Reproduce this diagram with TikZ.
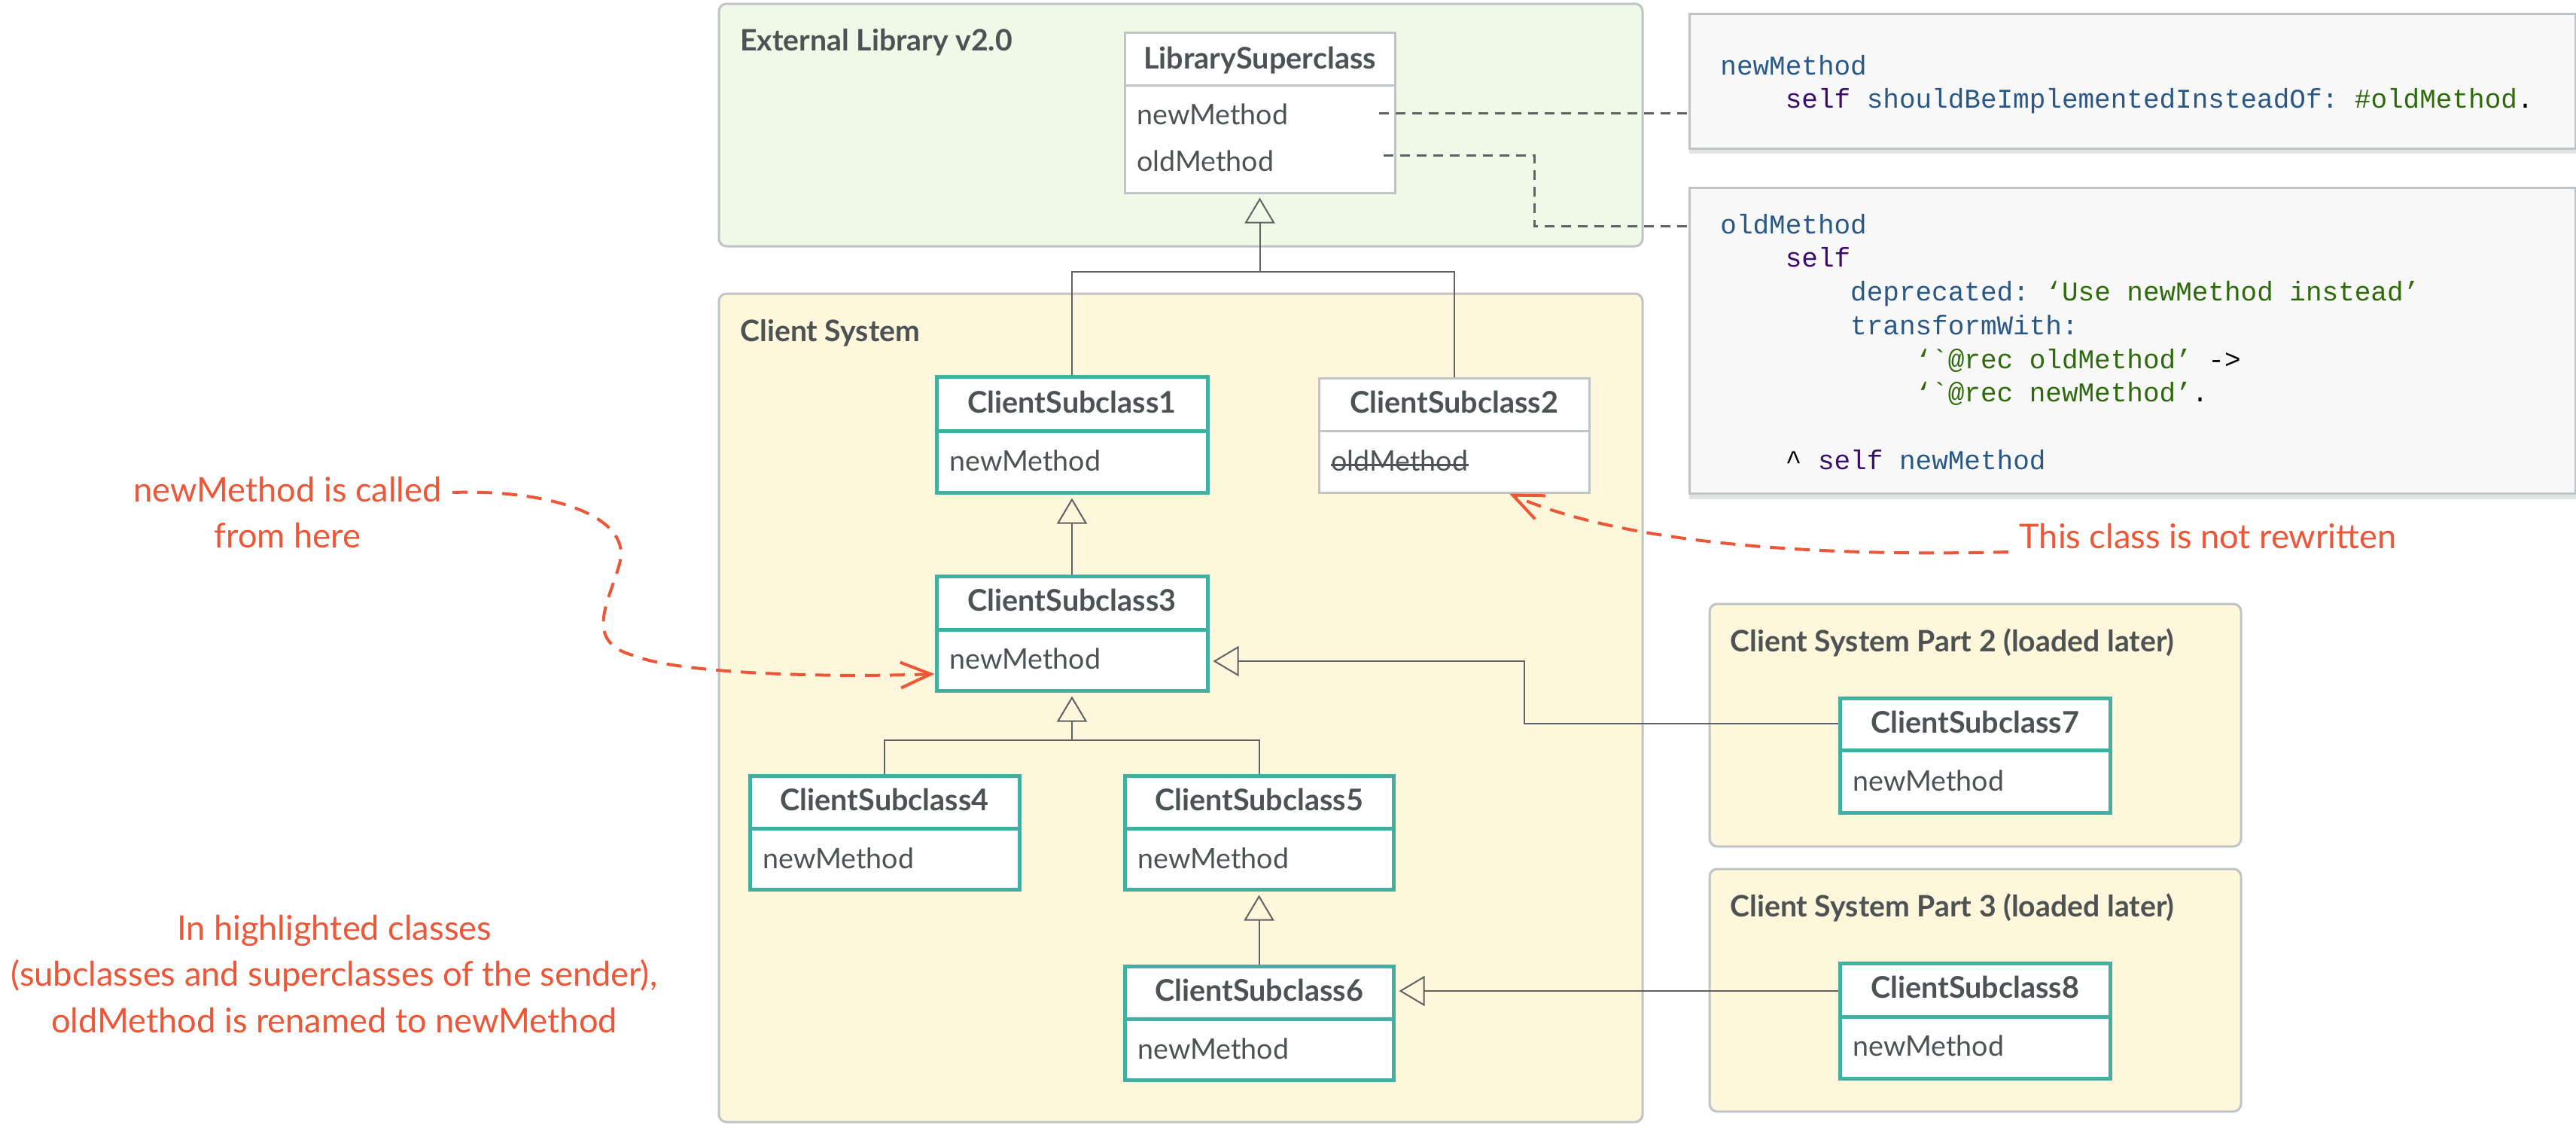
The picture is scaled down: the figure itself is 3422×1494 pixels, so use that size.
\documentclass[tikz,border=0pt]{standalone}
\usepackage{fontspec}
\setmainfont{Lato}
\setmonofont{Liberation Mono}
\usetikzlibrary{arrows.meta,fit}
\definecolor{txt}{HTML}{4D5254}
\definecolor{clsteal}{HTML}{42AFA2}
\definecolor{redann}{HTML}{EE5638}
\definecolor{extfill}{HTML}{F0F8E7}
\definecolor{clifill}{HTML}{FEF7DC}
\definecolor{grpline}{HTML}{C0C4C6}
\definecolor{lnk}{HTML}{5F6365}
\definecolor{codebg}{HTML}{F8F8F8}
\definecolor{shadowc}{HTML}{E2E3E3}
\definecolor{cblue}{HTML}{2A5886}
\definecolor{cpurple}{HTML}{3B0C6B}
\definecolor{cgreen}{HTML}{2D6A0A}
\begin{document}
\begin{tikzpicture}[x=0.5pt,y=-0.5pt,
  grp/.style={draw=grpline, line width=1.5pt, rounded corners=5pt, inner sep=0pt},
  tealcls/.style={draw=clsteal, line width=2.5pt, fill=white, inner sep=0pt},
  graycls/.style={draw=grpline, line width=1.5pt, fill=white, inner sep=0pt},
  tealdiv/.style={draw=clsteal, line width=2.5pt},
  graydiv/.style={draw=grpline, line width=1.5pt},
  ctitle/.style={font=\fontsize{19.8}{23}\selectfont\bfseries, text=txt, anchor=base, inner sep=0pt},
  cmeth/.style={font=\fontsize{18.8}{22}\selectfont, text=txt, anchor=base west, inner sep=0pt},
  gtitle/.style={font=\fontsize{19.6}{23}\selectfont\bfseries, text=txt, anchor=base west, inner sep=0pt},
  inhline/.style={draw=lnk, line width=1pt},
  inh/.style={draw=lnk, line width=1pt, shorten >=2.5pt, -{Triangle[open, length=17pt, width=20pt, line width=1pt]}},
  dashln/.style={draw=lnk, line width=1.5pt, dash pattern=on 6.5pt off 4.5pt},
  redln/.style={draw=redann, line width=2pt, dash pattern=on 10pt off 6.5pt, -{Straight Barb[length=20pt, width=17pt, line width=2pt]}},
  redtxt/.style={font=\fontsize{22.6}{27}\selectfont, text=redann, anchor=base, inner sep=0pt},
  codebox/.style={draw=grpline, line width=1.5pt, fill=codebg, inner sep=0pt},
  code/.style={font=\ttfamily\fontsize{18}{22}\selectfont, anchor=base west, inner sep=0pt}
]
\useasboundingbox (0,0) rectangle (3422,1494);
\fill[white] (0,0) rectangle (3422,1494);

% groups
\node[grp, fill=extfill, fit={(955,5) (2182,327)}] (ext) {};
\node[gtitle] (extt) at (983,67) {External Library v2.0};
\node[grp, fill=clifill, fit={(955,390) (2182,1490)}] (cli) {};
\node[gtitle] (clit) at (983,453) {Client System};
\node[grp, fill=clifill, fit={(2271,802) (2977,1124)}] (p2) {};
\node[gtitle] (p2t) at (2298,865) {Client System Part 2 (loaded later)};
\node[grp, fill=clifill, fit={(2271,1154) (2977,1476)}] (p3) {};
\node[gtitle] (p3t) at (2298,1217) {Client System Part 3 (loaded later)};

% code boxes
\fill[shadowc] (2244,24) rectangle (3422,204);
\node[codebox, fit={(2244,18) (3421,197)}] (code1) {};
\fill[shadowc] (2244,255) rectangle (3422,663);
\node[codebox, fit={(2244,249) (3421,655)}] (code2) {};

\node[code] (c1a) at (2285,99) {\textcolor{cblue}{newMethod}};
\node[code] (c1b) at (2371.4,143) {\textcolor{cpurple}{self} \textcolor{cblue}{shouldBeImplementedInsteadOf:} \textcolor{cgreen}{\#oldMethod}.};
\node[code] (c2a) at (2285,310) {\textcolor{cblue}{oldMethod}};
\node[code] (c2b) at (2371.4,354) {\textcolor{cpurple}{self}};
\node[code] (c2c) at (2457.8,399) {\textcolor{cblue}{deprecated:} \textcolor{cgreen}{‘Use newMethod instead’}};
\node[code] (c2d) at (2457.8,444) {\textcolor{cblue}{transformWith:}};
\node[code] (c2e) at (2544.2,489) {\textcolor{cgreen}{‘`@rec oldMethod’} ->};
\node[code] (c2f) at (2544.2,533) {\textcolor{cgreen}{‘`@rec newMethod’}.};
\node[code] (c2g) at (2371.4,623) {\textasciicircum{} \textcolor{cpurple}{self} \textcolor{cblue}{newMethod}};

% connectors (drawn below class boxes)
\draw[inhline] (1424,500) |- (1675,361) -| (1932,503);
\draw[inhline] (1175,1030) |- (1424,983) -| (1673,1030);

% classes
\node[graycls, fit={(1494,43) (1853,256)}] (lib) {};
\draw[graydiv] (lib.west |- 0,113) -- (lib.east |- 0,113);
\node[ctitle] (libt) at (1673.5,91) {LibrarySuperclass};
\node[cmeth] (libm1) at (1510,165) {newMethod};
\node[cmeth] (libm2) at (1510,227) {oldMethod};

\node[tealcls, fit={(1244,500) (1604,654)}] (cs1) {};
\draw[tealdiv] (cs1.west |- 0,572) -- (cs1.east |- 0,572);
\node[ctitle] (cs1t) at (cs1.center |- 0,548) {ClientSubclass1};
\node[cmeth] (cs1m) at (1261,625) {newMethod};

\node[graycls, fit={(1752,502) (2111,654)}] (cs2) {};
\draw[graydiv] (cs2.west |- 0,572) -- (cs2.east |- 0,572);
\node[ctitle] (cs2t) at (cs2.center |- 0,548) {ClientSubclass2};
\node[cmeth] (cs2m) at (1768,625) {oldMethod};
\draw[txt, line width=1.5pt] (cs2m.west |- 0,617) -- (cs2m.east |- 0,617);

\node[tealcls, fit={(1244,765) (1604,917)}] (cs3) {};
\draw[tealdiv] (cs3.west |- 0,836) -- (cs3.east |- 0,836);
\node[ctitle] (cs3t) at (cs3.center |- 0,811) {ClientSubclass3};
\node[cmeth] (cs3m) at (1261,888) {newMethod};

\node[tealcls, fit={(996,1030) (1354,1181)}] (cs4) {};
\draw[tealdiv] (cs4.west |- 0,1100) -- (cs4.east |- 0,1100);
\node[ctitle] (cs4t) at (cs4.center |- 0,1076) {ClientSubclass4};
\node[cmeth] (cs4m) at (1013,1153) {newMethod};

\node[tealcls, fit={(1494,1030) (1851,1181)}] (cs5) {};
\draw[tealdiv] (cs5.west |- 0,1100) -- (cs5.east |- 0,1100);
\node[ctitle] (cs5t) at (cs5.center |- 0,1076) {ClientSubclass5};
\node[cmeth] (cs5m) at (1511,1153) {newMethod};

\node[tealcls, fit={(1494,1283) (1851,1434)}] (cs6) {};
\draw[tealdiv] (cs6.west |- 0,1353) -- (cs6.east |- 0,1353);
\node[ctitle] (cs6t) at (cs6.center |- 0,1329) {ClientSubclass6};
\node[cmeth] (cs6m) at (1511,1406) {newMethod};

\node[tealcls, fit={(2444,927) (2803,1079)}] (cs7) {};
\draw[tealdiv] (cs7.west |- 0,996) -- (cs7.east |- 0,996);
\node[ctitle] (cs7t) at (cs7.center |- 0,973) {ClientSubclass7};
\node[cmeth] (cs7m) at (2461,1050) {newMethod};

\node[tealcls, fit={(2444,1279) (2803,1432)}] (cs8) {};
\draw[tealdiv] (cs8.west |- 0,1350) -- (cs8.east |- 0,1350);
\node[ctitle] (cs8t) at (cs8.center |- 0,1325) {ClientSubclass8};
\node[cmeth] (cs8m) at (2461,1402) {newMethod};

% inheritance arrows
\draw[inh] (lib.south |- 0,361) -- (lib.south);
\draw[inh] (cs3.north) -- (cs1.south);
\draw[inh] (cs3.south |- 0,983) -- (cs3.south);
\draw[inh] (cs6.north) -- (cs5.south);
\draw[inh] (cs7.west |- 0,961) -| (2025,878) -- (cs3.east |- 0,878);
\draw[inh] (cs8.west |- 0,1316) -- (cs6.east |- 0,1316);

% dashed links to code
\coordinate (d1) at (1832,150);
\coordinate (d2) at (1838,206);
\draw[dashln] (d1) -- (code1.west |- d1);
\draw[dashln] (d2) -| (2038,300) -- (code2.west |- 0,300);

% red annotations
\node[redtxt] (nmc1) at (382,666) {newMethod is called};
\node[redtxt] (nmc2) at (382,727) {from here};
\node[redtxt] (hl1) at (444,1248) {In highlighted classes};
\node[redtxt] (hl2) at (444,1309) {(subclasses and superclasses of the sender),};
\node[redtxt] (hl3) at (444,1371) {oldMethod is renamed to newMethod};
\node[redtxt, anchor=base west] (tcn) at (2682,728) {This class is not rewritten};

\coordinate (r1s) at (601,654);
\coordinate (r2s) at (2668,733);
\draw[redln] (r1s) .. controls (720,650) and (830,680) .. (825,740)
  .. controls (815,790) and (770,850) .. (840,870)
  .. controls (900,895) and (1100,900) .. (cs3.west |- 0,895);
\draw[redln] (r2s) .. controls (2400,740) and (2150,720) .. (2005,0 |- cs2.south);
\end{tikzpicture}
\end{document}
